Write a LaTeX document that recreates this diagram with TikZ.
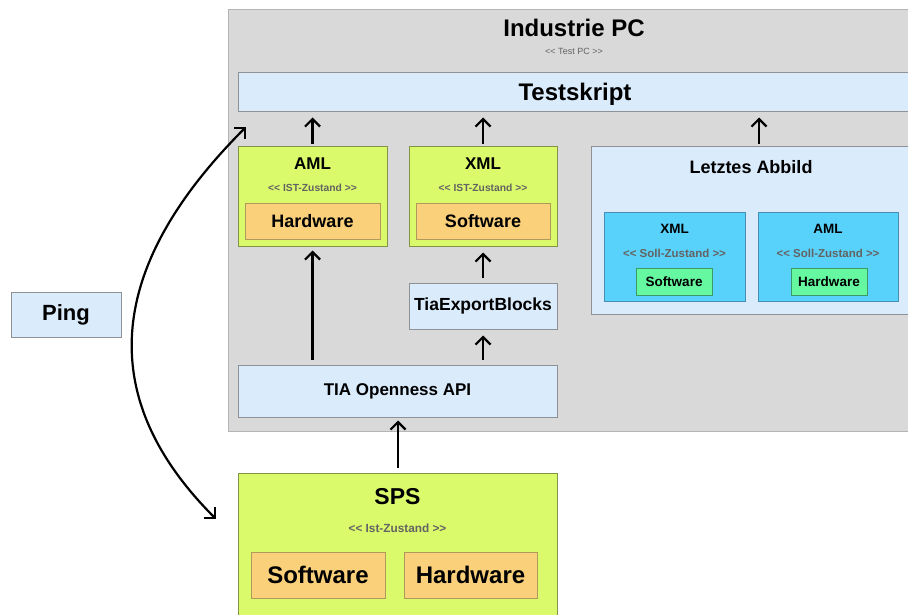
\documentclass[tikz,border=0pt]{standalone}
\usepackage{fontspec}
\setmainfont{Liberation Sans}
\usetikzlibrary{arrows.meta}
\definecolor{pcgray}{HTML}{D9D9D9}
\definecolor{pcborder}{HTML}{B5B5B5}
\definecolor{lblue}{HTML}{DAEBFC}
\definecolor{lblueb}{HTML}{8E9296}
\definecolor{lime}{HTML}{DAF96B}
\definecolor{limeb}{HTML}{849447}
\definecolor{orng}{HTML}{FAD07A}
\definecolor{orngb}{HTML}{B09A5A}
\definecolor{cyanb}{HTML}{58D2FB}
\definecolor{cyanbd}{HTML}{4A8DB4}
\definecolor{grn}{HTML}{66F8A0}
\definecolor{grnb}{HTML}{3C9A66}
\definecolor{subtxt}{HTML}{636363}
\newcommand{\myll}{{<}{<}}
\newcommand{\myrr}{{>}{>}}
\tikzset{
  box/.style={draw, line width=1pt, inner sep=0pt, rectangle, align=center},
  bluebox/.style={box, fill=lblue, draw=lblueb},
  limebox/.style={box, fill=lime, draw=limeb},
  orngbox/.style={box, fill=orng, draw=orngb},
  cyanbox/.style={box, fill=cyanb, draw=cyanbd},
  grnbox/.style={box, fill=grn, draw=grnb},
  lbl/.style={inner sep=0pt, font=\bfseries},
  sub/.style={inner sep=0pt, text=subtxt},
  arr/.style={line width=2.2pt, -{Straight Barb[length=7.5pt,width=15pt,line width=2.2pt]}},
}
\begin{document}
\begin{tikzpicture}[x=1pt,y=-1pt]
\clip (0,0) rectangle (908,615);
\fill[white] (0,0) rectangle (908,615);
% Industrie PC background
\node[box, fill=pcgray, draw=pcborder, minimum width=684pt, minimum height=421pt] (pc) at (570,220.5) {};
\node[lbl, font=\bfseries\fontsize{24}{28}\selectfont] (pctitle) at (574,28) {Industrie PC};
\node[sub, font=\fontsize{9}{11}\selectfont] (pcsub) at (574,51) {\myll{} Test PC \myrr};
% Testskript
\node[bluebox, minimum width=674pt, minimum height=39pt] (test) at (575,92.5) {};
\node[lbl, font=\bfseries\fontsize{24}{28}\selectfont] (testt) at (575,94.5) {Testskript};
% AML (IST)
\node[limebox, minimum width=149pt, minimum height=99pt] (aml) at (312.5,196.5) {};
\node[lbl, font=\bfseries\fontsize{17}{20}\selectfont] (amlt) at (312.5,164) {AML};
\node[sub, font=\bfseries\fontsize{10.3}{12}\selectfont] (amls) at (312.5,188) {\myll{} IST-Zustand \myrr};
\node[orngbox, minimum width=135pt, minimum height=36pt, font=\bfseries\fontsize{18}{21}\selectfont] (amlhw) at (312.5,221) {Hardware};
% XML (IST)
\node[limebox, minimum width=148pt, minimum height=99pt] (xml) at (483,196.5) {};
\node[lbl, font=\bfseries\fontsize{17}{20}\selectfont] (xmlt) at (483,164) {XML};
\node[sub, font=\bfseries\fontsize{10.3}{12}\selectfont] (xmls) at (483,188) {\myll{} IST-Zustand \myrr};
\node[orngbox, minimum width=134pt, minimum height=36pt, font=\bfseries\fontsize{18}{21}\selectfont] (xmlsw) at (483,221) {Software};
% Letztes Abbild
\node[bluebox, minimum width=321pt, minimum height=167pt] (abb) at (751.5,230.5) {};
\node[lbl, font=\bfseries\fontsize{18}{21}\selectfont] (abbt) at (751,167) {Letztes Abbild};
\node[cyanbox, minimum width=141pt, minimum height=89pt] (sxml) at (674.5,256.5) {};
\node[lbl, font=\bfseries\fontsize{13.5}{16}\selectfont] (sxmlt) at (674.5,229) {XML};
\node[sub, font=\bfseries\fontsize{11.5}{13}\selectfont] (sxmls) at (674.5,253) {\myll{} Soll-Zustand \myrr};
\node[grnbox, minimum width=76pt, minimum height=27pt, font=\bfseries\fontsize{13.5}{16}\selectfont] (ssw) at (674,281.5) {Software};
\node[cyanbox, minimum width=140pt, minimum height=89pt] (saml) at (828,256.5) {};
\node[lbl, font=\bfseries\fontsize{13.5}{16}\selectfont] (samlt) at (828,229) {AML};
\node[sub, font=\bfseries\fontsize{11.5}{13}\selectfont] (samls) at (828,253) {\myll{} Soll-Zustand \myrr};
\node[grnbox, minimum width=76pt, minimum height=27pt, font=\bfseries\fontsize{13.5}{16}\selectfont] (shw) at (829,281.5) {Hardware};
% TiaExportBlocks
\node[bluebox, minimum width=148pt, minimum height=46pt, font=\bfseries\fontsize{17.5}{20}\selectfont] (tex) at (483,306) {TiaExportBlocks};
% TIA Openness API
\node[bluebox, minimum width=319pt, minimum height=52pt, font=\bfseries\fontsize{17}{20}\selectfont] (api) at (397.5,391) {TIA Openness API};
% SPS
\node[limebox, minimum width=319pt, minimum height=147pt] (sps) at (397.5,546.5) {};
\node[lbl, font=\bfseries\fontsize{23}{27}\selectfont] (spst) at (397.5,497) {SPS};
\node[sub, font=\bfseries\fontsize{11.8}{14}\selectfont] (spss) at (397.5,528) {\myll{} Ist-Zustand \myrr};
\node[orngbox, minimum width=134pt, minimum height=46pt, font=\bfseries\fontsize{24}{28}\selectfont] (spssw) at (318,575) {Software};
\node[orngbox, minimum width=133pt, minimum height=46pt, font=\bfseries\fontsize{24}{28}\selectfont] (spshw) at (470.5,575) {Hardware};
% Ping
\node[bluebox, minimum width=110pt, minimum height=45pt, font=\bfseries\fontsize{22}{26}\selectfont] (ping) at (66,314.5) {Ping};
% arrows
\coordinate (abbtop) at ([xshift=7.5pt]abb.north);
\draw[arr, shorten <=2pt, shorten >=5pt] (aml.north) -- (aml.north |- test.south);
\draw[arr, shorten <=2pt, shorten >=5pt] (xml.north) -- (xml.north |- test.south);
\draw[arr, shorten <=2pt, shorten >=5pt] (abbtop) -- (abbtop |- test.south);
\draw[arr, shorten <=5pt, shorten >=4pt] (api.north -| aml.south) -- (aml.south);
\draw[arr, shorten <=5pt, shorten >=6pt] (api.north -| tex.south) -- (tex.south);
\draw[arr, shorten <=5pt, shorten >=6pt] (tex.north) -- (xml.south);
\coordinate (spsin) at ([xshift=0.5pt]sps.north);
\draw[arr, shorten <=5pt, shorten >=3pt] (spsin) -- (spsin |- api.south);
% curved ping arrow
\coordinate (cstart) at (246,127);
\coordinate (cend) at (216,519);
\draw[line width=2.2pt, {Straight Barb[length=7.5pt,width=15pt,line width=2.2pt]}-{Straight Barb[length=7.5pt,width=15pt,line width=2.2pt]}] (cstart) .. controls (121,252) and (82,385) .. (cend);
\end{tikzpicture}
\end{document}
